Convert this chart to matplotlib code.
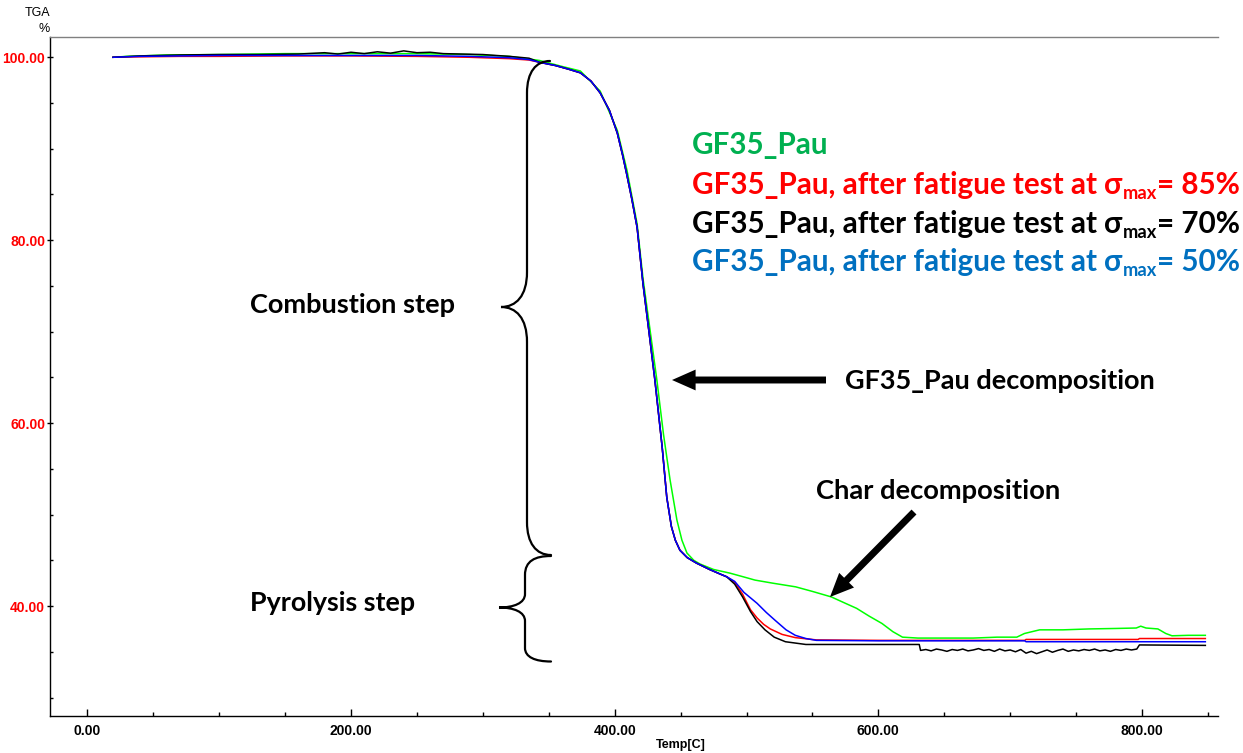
import matplotlib
matplotlib.use("Agg")
import matplotlib.pyplot as plt
import matplotlib.transforms as mtransforms
from matplotlib.path import Path
from matplotlib.patches import PathPatch, FancyArrowPatch, ArrowStyle
from matplotlib.ticker import MultipleLocator, FixedLocator, FormatStrFormatter

# ---------------- data ----------------
temp_flat = [19.5, 40, 70, 100, 150, 200, 250, 290, 320, 335]
red_flat = [100.0, 100.05, 100.1, 100.1, 100.15, 100.15, 100.1, 100.0, 99.85, 99.7]
blue_flat = [100.0, 100.1, 100.15, 100.2, 100.2, 100.2, 100.2, 100.1, 99.95, 99.75]

temp_black_flat = [19.5, 40, 70, 100, 130, 160, 180, 190, 200, 210, 220, 230, 240,
                   250, 260, 270, 285, 300, 320, 335]
black_flat = [100.0, 100.15, 100.25, 100.3, 100.3, 100.35, 100.5, 100.35, 100.55,
              100.4, 100.6, 100.45, 100.7, 100.5, 100.55, 100.4, 100.35, 100.3, 100.1, 99.9]

temp_comb = [343, 355, 365, 374, 382, 389, 396, 402, 406, 409, 413, 417, 421.5, 426,
             430.5, 436, 439.5, 443, 446, 449.5, 455, 462, 472, 480, 485]
tga_comb = [99.45, 99.1, 98.7, 98.3, 97.4, 96.1, 94.2, 91.7, 89.3, 87.3, 84.5, 81.4,
            75.2, 70.0, 64.7, 57.4, 51.9, 48.7, 47.2, 46.1, 45.3, 44.7, 44.0, 43.5, 43.2]

temp_red_tail = [491, 497, 503, 508, 513, 518, 527, 537, 553, 600, 711, 712, 797, 798, 848]
red_tail = [42.6, 41.3, 39.6, 38.7, 38.0, 37.5, 36.9, 36.55, 36.3, 36.25, 36.25, 36.35,
            36.35, 36.45, 36.45]

temp_blue_tail = [491, 498, 503, 508, 515, 522, 530, 537, 545, 553, 600, 711, 712, 848]
blue_tail = [42.7, 41.5, 40.9, 40.3, 39.3, 38.4, 37.4, 36.8, 36.45, 36.25, 36.2, 36.2,
             36.1, 36.1]

temp_black_tail = [491, 497, 503, 508, 514, 521, 529.5, 545, 600, 631,
                   632, 636, 640, 644, 648, 652, 656, 660, 664, 668, 672, 676, 680, 684,
                   688, 692, 696, 700, 704, 708, 712, 716, 720, 724, 728, 732, 736, 740,
                   744, 748, 752, 756, 760, 764, 768, 772, 776, 780, 784, 788, 792, 796,
                   798, 848]
black_tail = [42.4, 41.0, 39.4, 38.3, 37.4, 36.6, 36.1, 35.8, 35.8, 35.8,
              35.15, 35.25, 35.1, 35.3, 35.2, 35.05, 35.25, 35.15, 35.3, 35.1, 35.2,
              35.35, 35.15, 35.25, 35.05, 35.3, 35.1, 35.2, 35.0, 35.25, 34.85, 35.05,
              34.8, 35.0, 35.2, 34.95, 35.15, 35.3, 35.05, 35.2, 35.1, 35.25, 35.15,
              35.3, 35.1, 35.2, 35.05, 35.25, 35.15, 35.3, 35.2, 35.3,
              35.75, 35.7]

temp_green = [19.5, 30, 60, 100, 150, 200, 250, 290, 320, 343, 360, 374, 389, 402, 409.4,
              417, 421.5, 427, 432, 437, 442, 447.2, 451, 454.8, 460, 464.7, 475, 487.4,
              500, 506.4, 520, 537.3, 550, 564.3, 575, 583.5, 593, 602.7, 611, 618.3,
              630, 650, 672, 690, 705, 710.8, 722.3, 740, 760, 780, 795.6, 799, 803, 812,
              818, 822.7, 835, 848]
tga_green = [100.0, 100.1, 100.25, 100.3, 100.4, 100.4, 100.4, 100.3, 100.1, 99.65, 99.0,
             98.5, 96.3, 92.0, 87.6, 81.8, 75.8, 70.0, 64.7, 58.8, 53.8, 49.4, 47.2, 45.8,
             45.0, 44.6, 44.0, 43.6, 43.1, 42.84, 42.5, 42.1, 41.6, 41.0, 40.3, 39.75, 38.9,
             38.1, 37.2, 36.6, 36.5, 36.5, 36.5, 36.6, 36.6, 37.0, 37.4, 37.4, 37.5, 37.55,
             37.6, 37.8, 37.6, 37.5, 37.0, 36.75, 36.8, 36.8]

x_ticks = [0, 200, 400, 600, 800]
y_ticks = [40, 60, 80, 100]

legend_labels = ["GF35_Pau",
                 "GF35_Pau, after fatigue test at ",
                 "GF35_Pau, after fatigue test at ",
                 "GF35_Pau, after fatigue test at "]
legend_pcts = [None, "85%", "70%", "50%"]
legend_colors = ["#00B050", "#FF0000", "#000000", "#0070C0"]

# ---------------- figure ----------------
W, H = 1243, 753
fig = plt.figure(figsize=(W / 100, H / 100), dpi=100)
fig.patch.set_facecolor("white")
ax = fig.add_axes([50 / W, (H - 716) / H, (1218 - 50) / W, (716 - 36.7) / H])
ax.set_xlim(-28.3, 857.6)
ax.set_ylim(27.98, 102.25)

lw = 1.1
ax.plot(temp_green, tga_green, color="#00FF00", lw=lw)
ax.plot(temp_flat + temp_comb + temp_red_tail, red_flat + tga_comb + red_tail,
        color="#FF0000", lw=lw)
ax.plot(temp_black_flat + temp_comb + temp_black_tail, black_flat + tga_comb + black_tail,
        color="#000000", lw=lw)
ax.plot(temp_flat + temp_comb + temp_blue_tail, blue_flat + tga_comb + blue_tail,
        color="#0000FF", lw=lw)

# axes styling
ax.spines["right"].set_visible(False)
ax.spines["top"].set_color("#808080")
ax.spines["left"].set_color("black")
ax.spines["bottom"].set_color("black")
for s in ax.spines.values():
    s.set_linewidth(1.0)

ax.xaxis.set_major_locator(FixedLocator(x_ticks))
ax.xaxis.set_minor_locator(MultipleLocator(50))
ax.yaxis.set_major_locator(FixedLocator(y_ticks))
ax.yaxis.set_minor_locator(MultipleLocator(5))
ax.xaxis.set_major_formatter(FormatStrFormatter("%.2f"))
ax.yaxis.set_major_formatter(FormatStrFormatter("%.2f"))
ax.tick_params(axis="x", which="major", direction="in", length=5, width=1, pad=6)
ax.tick_params(axis="x", which="minor", direction="in", length=3, width=1)
ax.tick_params(axis="y", which="major", direction="inout", length=5, width=1, pad=1)
ax.tick_params(axis="y", which="minor", direction="in", length=2, width=1)
for lab in ax.get_xticklabels():
    lab.set_fontfamily("Liberation Sans")
    lab.set_fontweight("bold")
    lab.set_fontsize(10)
    lab.set_color("black")
for lab in ax.get_yticklabels():
    lab.set_fontfamily("Liberation Sans")
    lab.set_fontweight("bold")
    lab.set_fontsize(10)
    lab.set_color("#FF0000")

# pixel transform (top-left origin)
pix = mtransforms.Affine2D().scale(1 / 100, -1 / 100).translate(0, H / 100) + fig.dpi_scale_trans

fig.text(50, 16, "TGA", transform=pix, ha="right", va="baseline",
         family="Liberation Sans", fontsize=9)
fig.text(50, 32, "%", transform=pix, ha="right", va="baseline",
         family="Liberation Sans", fontsize=9)
fig.text(681, 748, "Temp[C]", transform=pix, ha="center", va="baseline",
         family="Liberation Sans", fontsize=9, fontweight="bold")

renderer = fig.canvas.get_renderer()
FAM = ["Lato", "DejaVu Sans"]


def fit_text(x, y, s, width, color="black"):
    t = fig.text(x, y, s, transform=pix, fontsize=20, fontweight="bold", family=FAM,
                 color=color, ha="left", va="baseline")
    w = t.get_window_extent(renderer).width
    t.set_fontsize(20 * width / w)
    return t


def rich(x, y, pieces, size, color):
    """pieces: (text, scale, dy_px). Returns list of texts and total width."""
    texts = []
    cx = x
    for s, sc, dy in pieces:
        t = fig.text(cx, y + dy, s, transform=pix, fontsize=size * sc, fontweight="bold",
                     family=FAM, color=color, ha="left", va="baseline")
        w = t.get_window_extent(renderer).width
        cx += w
        texts.append(t)
    return texts, cx - x


def pieces_for(label, pct):
    if pct is None:
        return [(label, 1, 0)]
    return [(label, 1, 0), ("σ", 1, 0), ("max", 0.62, 5), ("= " + pct, 1, 0)]


# fit legend size on the longest line
tmp, wtot = rich(0, 0, pieces_for(legend_labels[1], legend_pcts[1]), 20, "black")
for t in tmp:
    t.remove()
leg_size = 20 * 548 / wtot
leg_baselines = [154, 194, 233, 271]
for lab, pct, col, yb in zip(legend_labels, legend_pcts, legend_colors, leg_baselines):
    rich(692, yb, pieces_for(lab, pct), leg_size, col)

fit_text(250, 313, "Combustion step", 205)
fit_text(250, 611, "Pyrolysis step", 166)
fit_text(845, 389, "GF35_Pau decomposition", 310)
fit_text(816, 499, "Char decomposition", 245)

# arrows
style = ArrowStyle("simple", head_length=17, head_width=15, tail_width=5)
for a, b in [((826, 380), (672, 380)), ((914, 512), (830, 597))]:
    arr = FancyArrowPatch(a, b, transform=pix, arrowstyle=style, mutation_scale=1,
                          shrinkA=0, shrinkB=0, color="black", lw=0)
    fig.add_artist(arr)

# braces
M, L, C = Path.MOVETO, Path.LINETO, Path.CURVE4
big = [(550, 61), (536, 61), (527, 72), (527, 93), (527, 272), (527, 296), (516, 307),
       (501, 307), (516, 307), (527, 318), (527, 342), (527, 522), (527, 543), (536, 555),
       (551, 555)]
big_codes = [M, C, C, C, L, C, C, C, C, C, C, L, C, C, C]
small = [(551, 556), (535, 556), (525, 561), (525, 575), (525, 594), (525, 603),
         (514, 607.5), (499, 607.5), (514, 607.5), (525, 612), (525, 621), (525, 648),
         (525, 657), (535, 661.5), (551, 661.5)]
for verts in (big, small):
    p = PathPatch(Path(verts, big_codes), transform=pix, fill=False, lw=1.6,
                  edgecolor="black", capstyle="round")
    fig.add_artist(p)

fig.savefig("out.png", dpi=100, facecolor="white")
